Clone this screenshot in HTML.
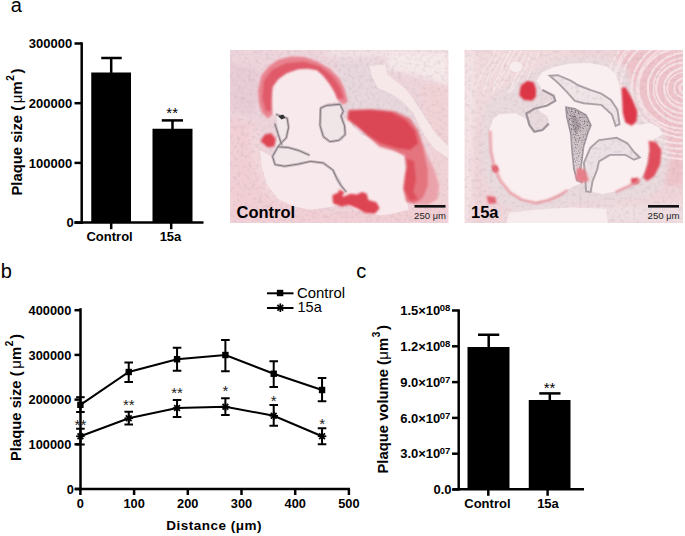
<!DOCTYPE html>
<html><head><meta charset="utf-8"><style>
html,body{margin:0;padding:0;background:#fff;}
body{width:685px;height:536px;overflow:hidden;position:relative;}
svg{display:block;}
.ph{position:absolute;}
</style></head><body>
<svg width="685" height="536" viewBox="0 0 685 536" style="position:absolute;left:0;top:0;font-family:'Liberation Sans', sans-serif;">
<text x="10.8" y="12.4" font-size="20" font-weight="normal" text-anchor="start" >a</text>
<line x1="81.7" y1="42.3" x2="81.7" y2="223.9" stroke="#000" stroke-width="2.5"/>
<line x1="74.5" y1="43.5" x2="81.7" y2="43.5" stroke="#000" stroke-width="2.5"/>
<text x="72.2" y="48.15" font-size="13" font-weight="bold" text-anchor="end" >300000</text>
<line x1="74.5" y1="103.2" x2="81.7" y2="103.2" stroke="#000" stroke-width="2.5"/>
<text x="72.2" y="107.85000000000001" font-size="13" font-weight="bold" text-anchor="end" >200000</text>
<line x1="74.5" y1="162.9" x2="81.7" y2="162.9" stroke="#000" stroke-width="2.5"/>
<text x="72.2" y="167.55" font-size="13" font-weight="bold" text-anchor="end" >100000</text>
<line x1="74.5" y1="222.6" x2="81.7" y2="222.6" stroke="#000" stroke-width="2.5"/>
<text x="73.8" y="227.25" font-size="13" font-weight="bold" text-anchor="end" >0</text>
<line x1="74.5" y1="222.6" x2="203.5" y2="222.6" stroke="#000" stroke-width="2.5"/>
<rect x="91.25" y="72.5" width="39.75" height="150" fill="#000"/>
<rect x="152.5" y="128.75" width="40" height="94" fill="#000"/>
<line x1="111.2" y1="58" x2="111.2" y2="73" stroke="#000" stroke-width="2.5"/>
<line x1="101.25" y1="58" x2="121.75" y2="58" stroke="#000" stroke-width="2.5"/>
<line x1="172.5" y1="120.4" x2="172.5" y2="129" stroke="#000" stroke-width="2.5"/>
<line x1="161.75" y1="120.4" x2="183" y2="120.4" stroke="#000" stroke-width="2.5"/>
<text x="172.2" y="118" font-size="15" font-weight="normal" text-anchor="middle" >**</text>
<line x1="111.2" y1="222" x2="111.2" y2="229.2" stroke="#000" stroke-width="2.5"/>
<line x1="171.2" y1="222" x2="171.2" y2="229.2" stroke="#000" stroke-width="2.5"/>
<text x="109.6" y="241" font-size="13" font-weight="bold" text-anchor="middle" >Control</text>
<text x="170.5" y="241" font-size="13" font-weight="bold" text-anchor="middle" >15a</text>
<text transform="translate(21.6,195.5) rotate(-90)" font-size="14.8" font-weight="bold">Plaque size (<tspan font-weight="normal" dx="2.6">μ</tspan><tspan dx="0.3">m</tspan><tspan font-size="10" dy="-7.8" dx="0.6">2</tspan><tspan dy="7.8" dx="1.5">)</tspan></text>
<text x="0.7" y="277.8" font-size="20" font-weight="normal" text-anchor="start" >b</text>
<line x1="80.5" y1="308.2" x2="80.5" y2="490.3" stroke="#000" stroke-width="2.5"/>
<line x1="74.5" y1="489.0" x2="80.5" y2="489.0" stroke="#000" stroke-width="2.5"/>
<text x="73.9" y="493.6" font-size="12.8" font-weight="bold" text-anchor="end" >0</text>
<line x1="74.5" y1="444.3" x2="80.5" y2="444.3" stroke="#000" stroke-width="2.5"/>
<text x="71.3" y="448.90000000000003" font-size="12.8" font-weight="bold" text-anchor="end" >100000</text>
<line x1="74.5" y1="399.6" x2="80.5" y2="399.6" stroke="#000" stroke-width="2.5"/>
<text x="71.3" y="404.20000000000005" font-size="12.8" font-weight="bold" text-anchor="end" >200000</text>
<line x1="74.5" y1="354.9" x2="80.5" y2="354.9" stroke="#000" stroke-width="2.5"/>
<text x="71.3" y="359.5" font-size="12.8" font-weight="bold" text-anchor="end" >300000</text>
<line x1="74.5" y1="310.2" x2="80.5" y2="310.2" stroke="#000" stroke-width="2.5"/>
<text x="71.3" y="314.8" font-size="12.8" font-weight="bold" text-anchor="end" >400000</text>
<line x1="75" y1="489" x2="350" y2="489" stroke="#000" stroke-width="2.5"/>
<line x1="80.4" y1="489" x2="80.4" y2="495" stroke="#000" stroke-width="2.5"/>
<text x="80.4" y="508.3" font-size="12.8" font-weight="bold" text-anchor="middle" >0</text>
<line x1="134.10000000000002" y1="489" x2="134.10000000000002" y2="495" stroke="#000" stroke-width="2.5"/>
<text x="134.10000000000002" y="508.3" font-size="12.8" font-weight="bold" text-anchor="middle" >100</text>
<line x1="187.8" y1="489" x2="187.8" y2="495" stroke="#000" stroke-width="2.5"/>
<text x="187.8" y="508.3" font-size="12.8" font-weight="bold" text-anchor="middle" >200</text>
<line x1="241.50000000000003" y1="489" x2="241.50000000000003" y2="495" stroke="#000" stroke-width="2.5"/>
<text x="241.50000000000003" y="508.3" font-size="12.8" font-weight="bold" text-anchor="middle" >300</text>
<line x1="295.20000000000005" y1="489" x2="295.20000000000005" y2="495" stroke="#000" stroke-width="2.5"/>
<text x="295.20000000000005" y="508.3" font-size="12.8" font-weight="bold" text-anchor="middle" >400</text>
<line x1="348.9" y1="489" x2="348.9" y2="495" stroke="#000" stroke-width="2.5"/>
<text x="348.9" y="508.3" font-size="12.8" font-weight="bold" text-anchor="middle" >500</text>
<text x="166.3" y="529.7" font-size="13.5" font-weight="bold" text-anchor="start" letter-spacing="0.5">Distance (μm)</text>
<text transform="translate(21,461) rotate(-90)" font-size="14.8" font-weight="bold">Plaque size (<tspan font-weight="normal" dx="2.6">μ</tspan><tspan dx="0.3">m</tspan><tspan font-size="10" dy="-7.8" dx="0.6">2</tspan><tspan dy="7.8" dx="1.5">)</tspan></text>
<polyline points="80.40,404.8 128.73,372 177.06,359.25 225.39,355 273.72,373.75 322.05,390" fill="none" stroke="#000" stroke-width="2"/>
<line x1="80.4" y1="397.2" x2="80.4" y2="412" stroke="#000" stroke-width="2"/>
<line x1="76.10000000000001" y1="397.2" x2="84.7" y2="397.2" stroke="#000" stroke-width="2"/>
<line x1="76.10000000000001" y1="412" x2="84.7" y2="412" stroke="#000" stroke-width="2"/>
<rect x="77.2" y="401.6" width="6.4" height="6.4" fill="#000"/>
<line x1="128.73000000000002" y1="362.5" x2="128.73000000000002" y2="382" stroke="#000" stroke-width="2"/>
<line x1="124.43000000000002" y1="362.5" x2="133.03000000000003" y2="362.5" stroke="#000" stroke-width="2"/>
<line x1="124.43000000000002" y1="382" x2="133.03000000000003" y2="382" stroke="#000" stroke-width="2"/>
<rect x="125.53000000000002" y="368.8" width="6.4" height="6.4" fill="#000"/>
<line x1="177.06" y1="347.75" x2="177.06" y2="370.75" stroke="#000" stroke-width="2"/>
<line x1="172.76" y1="347.75" x2="181.36" y2="347.75" stroke="#000" stroke-width="2"/>
<line x1="172.76" y1="370.75" x2="181.36" y2="370.75" stroke="#000" stroke-width="2"/>
<rect x="173.86" y="356.05" width="6.4" height="6.4" fill="#000"/>
<line x1="225.39000000000001" y1="340" x2="225.39000000000001" y2="371.25" stroke="#000" stroke-width="2"/>
<line x1="221.09" y1="340" x2="229.69000000000003" y2="340" stroke="#000" stroke-width="2"/>
<line x1="221.09" y1="371.25" x2="229.69000000000003" y2="371.25" stroke="#000" stroke-width="2"/>
<rect x="222.19000000000003" y="351.8" width="6.4" height="6.4" fill="#000"/>
<line x1="273.72" y1="361.25" x2="273.72" y2="387" stroke="#000" stroke-width="2"/>
<line x1="269.42" y1="361.25" x2="278.02000000000004" y2="361.25" stroke="#000" stroke-width="2"/>
<line x1="269.42" y1="387" x2="278.02000000000004" y2="387" stroke="#000" stroke-width="2"/>
<rect x="270.52000000000004" y="370.55" width="6.4" height="6.4" fill="#000"/>
<line x1="322.05" y1="378" x2="322.05" y2="401.25" stroke="#000" stroke-width="2"/>
<line x1="317.75" y1="378" x2="326.35" y2="378" stroke="#000" stroke-width="2"/>
<line x1="317.75" y1="401.25" x2="326.35" y2="401.25" stroke="#000" stroke-width="2"/>
<rect x="318.85" y="386.8" width="6.4" height="6.4" fill="#000"/>
<polyline points="80.40,436.25 128.73,418.25 177.06,408 225.39,406.75 273.72,415.75 322.05,436.25" fill="none" stroke="#000" stroke-width="2"/>
<line x1="80.4" y1="428.75" x2="80.4" y2="444.5" stroke="#000" stroke-width="2"/>
<line x1="76.10000000000001" y1="428.75" x2="84.7" y2="428.75" stroke="#000" stroke-width="2"/>
<line x1="76.10000000000001" y1="444.5" x2="84.7" y2="444.5" stroke="#000" stroke-width="2"/>
<line x1="76.10" y1="436.25" x2="84.70" y2="436.25" stroke="#000" stroke-width="1.7"/>
<line x1="77.51" y1="433.36" x2="83.29" y2="439.14" stroke="#000" stroke-width="1.7"/>
<line x1="80.40" y1="431.95" x2="80.40" y2="440.55" stroke="#000" stroke-width="1.7"/>
<line x1="83.29" y1="433.36" x2="77.51" y2="439.14" stroke="#000" stroke-width="1.7"/>
<line x1="128.73000000000002" y1="411.75" x2="128.73000000000002" y2="424.5" stroke="#000" stroke-width="2"/>
<line x1="124.43000000000002" y1="411.75" x2="133.03000000000003" y2="411.75" stroke="#000" stroke-width="2"/>
<line x1="124.43000000000002" y1="424.5" x2="133.03000000000003" y2="424.5" stroke="#000" stroke-width="2"/>
<line x1="124.43" y1="418.25" x2="133.03" y2="418.25" stroke="#000" stroke-width="1.7"/>
<line x1="125.84" y1="415.36" x2="131.62" y2="421.14" stroke="#000" stroke-width="1.7"/>
<line x1="128.73" y1="413.95" x2="128.73" y2="422.55" stroke="#000" stroke-width="1.7"/>
<line x1="131.62" y1="415.36" x2="125.84" y2="421.14" stroke="#000" stroke-width="1.7"/>
<line x1="177.06" y1="400" x2="177.06" y2="417" stroke="#000" stroke-width="2"/>
<line x1="172.76" y1="400" x2="181.36" y2="400" stroke="#000" stroke-width="2"/>
<line x1="172.76" y1="417" x2="181.36" y2="417" stroke="#000" stroke-width="2"/>
<line x1="172.76" y1="408.00" x2="181.36" y2="408.00" stroke="#000" stroke-width="1.7"/>
<line x1="174.17" y1="405.11" x2="179.95" y2="410.89" stroke="#000" stroke-width="1.7"/>
<line x1="177.06" y1="403.70" x2="177.06" y2="412.30" stroke="#000" stroke-width="1.7"/>
<line x1="179.95" y1="405.11" x2="174.17" y2="410.89" stroke="#000" stroke-width="1.7"/>
<line x1="225.39000000000001" y1="398.25" x2="225.39000000000001" y2="415" stroke="#000" stroke-width="2"/>
<line x1="221.09" y1="398.25" x2="229.69000000000003" y2="398.25" stroke="#000" stroke-width="2"/>
<line x1="221.09" y1="415" x2="229.69000000000003" y2="415" stroke="#000" stroke-width="2"/>
<line x1="221.09" y1="406.75" x2="229.69" y2="406.75" stroke="#000" stroke-width="1.7"/>
<line x1="222.50" y1="403.86" x2="228.28" y2="409.64" stroke="#000" stroke-width="1.7"/>
<line x1="225.39" y1="402.45" x2="225.39" y2="411.05" stroke="#000" stroke-width="1.7"/>
<line x1="228.28" y1="403.86" x2="222.50" y2="409.64" stroke="#000" stroke-width="1.7"/>
<line x1="273.72" y1="405" x2="273.72" y2="425.75" stroke="#000" stroke-width="2"/>
<line x1="269.42" y1="405" x2="278.02000000000004" y2="405" stroke="#000" stroke-width="2"/>
<line x1="269.42" y1="425.75" x2="278.02000000000004" y2="425.75" stroke="#000" stroke-width="2"/>
<line x1="269.42" y1="415.75" x2="278.02" y2="415.75" stroke="#000" stroke-width="1.7"/>
<line x1="270.83" y1="412.86" x2="276.61" y2="418.64" stroke="#000" stroke-width="1.7"/>
<line x1="273.72" y1="411.45" x2="273.72" y2="420.05" stroke="#000" stroke-width="1.7"/>
<line x1="276.61" y1="412.86" x2="270.83" y2="418.64" stroke="#000" stroke-width="1.7"/>
<line x1="322.05" y1="428.25" x2="322.05" y2="444.25" stroke="#000" stroke-width="2"/>
<line x1="317.75" y1="428.25" x2="326.35" y2="428.25" stroke="#000" stroke-width="2"/>
<line x1="317.75" y1="444.25" x2="326.35" y2="444.25" stroke="#000" stroke-width="2"/>
<line x1="317.75" y1="436.25" x2="326.35" y2="436.25" stroke="#000" stroke-width="1.7"/>
<line x1="319.16" y1="433.36" x2="324.94" y2="439.14" stroke="#000" stroke-width="1.7"/>
<line x1="322.05" y1="431.95" x2="322.05" y2="440.55" stroke="#000" stroke-width="1.7"/>
<line x1="324.94" y1="433.36" x2="319.16" y2="439.14" stroke="#000" stroke-width="1.7"/>
<text x="80.4" y="430.2" font-size="15" font-weight="normal" text-anchor="middle" fill="#222">**</text>
<text x="128.73000000000002" y="410.4" font-size="15" font-weight="normal" text-anchor="middle" fill="#222">**</text>
<text x="177.06" y="398.0" font-size="15" font-weight="normal" text-anchor="middle" fill="#222">**</text>
<text x="225.39000000000001" y="395.9" font-size="15" font-weight="normal" text-anchor="middle" fill="#222">*</text>
<text x="273.72" y="405.5" font-size="15" font-weight="normal" text-anchor="middle" fill="#222">*</text>
<text x="322.05" y="429.0" font-size="15" font-weight="normal" text-anchor="middle" fill="#222">*</text>
<line x1="267" y1="293.3" x2="293.5" y2="293.3" stroke="#000" stroke-width="2"/>
<rect x="276.90000000000003" y="289.8" width="6.4" height="6.4" fill="#000"/>
<line x1="267" y1="308" x2="293.5" y2="308" stroke="#000" stroke-width="2"/>
<line x1="276.00" y1="307.70" x2="284.60" y2="307.70" stroke="#000" stroke-width="1.7"/>
<line x1="277.41" y1="304.81" x2="283.19" y2="310.59" stroke="#000" stroke-width="1.7"/>
<line x1="280.30" y1="303.40" x2="280.30" y2="312.00" stroke="#000" stroke-width="1.7"/>
<line x1="283.19" y1="304.81" x2="277.41" y2="310.59" stroke="#000" stroke-width="1.7"/>
<text x="297" y="298.2" font-size="14.9" font-weight="normal" text-anchor="start" >Control</text>
<text x="297.5" y="312.3" font-size="14.5" font-weight="normal" text-anchor="start" >15a</text>
<text x="356.2" y="277.7" font-size="20" font-weight="normal" text-anchor="start" >c</text>
<line x1="458.7" y1="309.4" x2="458.7" y2="490.5" stroke="#000" stroke-width="2.5"/>
<line x1="452" y1="489.5" x2="458.7" y2="489.5" stroke="#000" stroke-width="2.5"/>
<text x="451.5" y="494.1" font-size="13" font-weight="bold" text-anchor="end" >0.0</text>
<line x1="452" y1="453.7" x2="458.7" y2="453.7" stroke="#000" stroke-width="2.5"/>
<text x="440.3" y="458.3" font-size="13" font-weight="bold" text-anchor="end" >3.0×10</text>
<text x="439.8" y="454.3" font-size="9.5" font-weight="bold" text-anchor="start" >07</text>
<line x1="452" y1="417.9" x2="458.7" y2="417.9" stroke="#000" stroke-width="2.5"/>
<text x="440.3" y="422.5" font-size="13" font-weight="bold" text-anchor="end" >6.0×10</text>
<text x="439.8" y="418.5" font-size="9.5" font-weight="bold" text-anchor="start" >07</text>
<line x1="452" y1="382.1" x2="458.7" y2="382.1" stroke="#000" stroke-width="2.5"/>
<text x="440.3" y="386.70000000000005" font-size="13" font-weight="bold" text-anchor="end" >9.0×10</text>
<text x="439.8" y="382.70000000000005" font-size="9.5" font-weight="bold" text-anchor="start" >07</text>
<line x1="452" y1="346.3" x2="458.7" y2="346.3" stroke="#000" stroke-width="2.5"/>
<text x="440.3" y="350.90000000000003" font-size="13" font-weight="bold" text-anchor="end" >1.2×10</text>
<text x="439.8" y="346.90000000000003" font-size="9.5" font-weight="bold" text-anchor="start" >08</text>
<line x1="452" y1="310.5" x2="458.7" y2="310.5" stroke="#000" stroke-width="2.5"/>
<text x="440.3" y="315.1" font-size="13" font-weight="bold" text-anchor="end" >1.5×10</text>
<text x="439.8" y="311.1" font-size="9.5" font-weight="bold" text-anchor="start" >08</text>
<line x1="453" y1="489.3" x2="584" y2="489.3" stroke="#000" stroke-width="2.5"/>
<rect x="467.5" y="347" width="42" height="142" fill="#000"/>
<rect x="528.75" y="400" width="41.75" height="89" fill="#000"/>
<line x1="488.7" y1="334.75" x2="488.7" y2="347.5" stroke="#000" stroke-width="2.5"/>
<line x1="478" y1="334.75" x2="499.25" y2="334.75" stroke="#000" stroke-width="2.5"/>
<line x1="549.8" y1="393.4" x2="549.8" y2="400.5" stroke="#000" stroke-width="2.5"/>
<line x1="539.25" y1="393.4" x2="560.5" y2="393.4" stroke="#000" stroke-width="2.5"/>
<text x="549.6" y="392.5" font-size="15" font-weight="normal" text-anchor="middle" >**</text>
<line x1="488.3" y1="489" x2="488.3" y2="495.8" stroke="#000" stroke-width="2.5"/>
<line x1="547.6" y1="489" x2="547.6" y2="495.8" stroke="#000" stroke-width="2.5"/>
<text x="487.4" y="507.7" font-size="13" font-weight="bold" text-anchor="middle" >Control</text>
<text x="548" y="507.7" font-size="13" font-weight="bold" text-anchor="middle" >15a</text>
<text transform="translate(388,473.5) rotate(-90)" font-size="14.8" font-weight="bold">Plaque volume (<tspan font-weight="normal" dx="0.3">μ</tspan><tspan dx="0.3">m</tspan><tspan font-size="10" dy="-7.8" dx="0.6">3</tspan><tspan dy="7.8" dx="1.5">)</tspan></text>
<svg x="230" y="50" width="218.5" height="173" viewBox="0 0 679 536" preserveAspectRatio="none"><defs>
<filter id="b1" x="-10%" y="-10%" width="120%" height="120%"><feGaussianBlur stdDeviation="4"/></filter>
<filter id="b2" x="-10%" y="-10%" width="120%" height="120%"><feGaussianBlur stdDeviation="2"/></filter>
<filter id="t1" x="0" y="0" width="100%" height="100%"><feTurbulence type="fractalNoise" baseFrequency="0.09" numOctaves="3" seed="7"/><feColorMatrix type="matrix" values="0 0 0 0 0.42  0 0 0 0 0.36  0 0 0 0 0.42  2.6 0 0 0 -1.25"/></filter>
<filter id="rt1" x="-10%" y="-10%" width="120%" height="120%"><feGaussianBlur in="SourceGraphic" stdDeviation="4" result="bl"/><feTurbulence type="fractalNoise" baseFrequency="0.045" numOctaves="2" seed="4" result="n"/><feColorMatrix in="n" type="matrix" values="0 0 0 0 1  0 0 0 0 0.88  0 0 0 0 0.9  0.9 0 0 0 -0.36" result="nw"/><feComposite in="nw" in2="bl" operator="in" result="nwin"/><feMerge><feMergeNode in="bl"/><feMergeNode in="nwin"/></feMerge></filter>
<filter id="b3" x="-20%" y="-20%" width="140%" height="140%"><feGaussianBlur stdDeviation="8"/></filter>
</defs>
<rect width="679" height="536" fill="#eed5dc"/>
<g filter="url(#b3)">
<path d="M300,0 H679 V20 H300 Z" fill="#f3e4e7"/>
<path d="M488,10 L679,10 L679,110 L600,85 L560,75 L490,60 Z" fill="#f6e9ea"/>
<path d="M590,100 L679,110 L679,536 L600,536 L620,400 L625,300 Z" fill="#f1d3d6"/>
<path d="M0,210 L85,230 L100,330 L150,470 L300,500 L679,480 L679,536 L0,536 Z" fill="#f2cfd5"/>
<path d="M55,240 L85,240 L95,330 L125,420 L180,470 L150,480 L100,430 L70,330 Z" fill="#f3d8dc"/>
<path d="M0,40 L90,60 L80,200 L0,190 Z" fill="#e8ccd6"/>
<path d="M338,25 L490,40 L500,130 L560,180 L600,260 L560,300 L420,260 L360,210 L340,160 Z" fill="#e8d8dd"/>
</g>
<rect width="679" height="536" filter="url(#t1)" opacity="0.26"/>
<g filter="url(#b2)">
<!-- lumen -->
<path d="M132,200 L132,115 L150,90 L175,72 L210,60 L240,57 L270,62 L290,80 L310,105 L325,130 L335,160 L300,165 L280,175 L278,230 L290,275 L320,288 L350,280 L362,250 L355,215 L368,200 L380,235 L410,262 L450,282 L500,300 L540,330 L543,360 L548,400 L540,420 L548,460 L555,495 L500,508 L470,512 L440,510 L390,495 L360,478 L300,488 L250,495 L200,485 L150,462 L115,417 L100,367 L92,310 L130,330 L150,300 L175,270 L180,230 L160,210 Z" fill="#f8eaec"/>
<!-- channel -->
<path d="M433,50 L483,45 L488,75 L545,120 L568,150 L600,200 L640,260 L679,300 L679,335 L635,305 L605,265 L570,195 L535,158 L500,135 L460,118 L440,78 Z" fill="#f6e8e9"/>
<!-- leaflet interiors -->
<path d="M282,180 L342,168 L352,190 L345,205 L356,235 L358,262 L338,280 L310,284 L290,268 L280,235 Z" fill="#f0e6e8"/>
<path d="M135,320 L150,298 L175,272 L182,240 L178,212 L145,200 L150,260 L140,300 Z" fill="#f1e8ea"/>
<path d="M138,318 L165,292 L200,300 L235,316 L252,333 L232,345 L190,352 L150,352 L133,338 Z" fill="#f1e7e9"/>
<path d="M318,372 L340,395 L355,425 L345,432 L330,410 Z" fill="#ece0e3"/>
</g>
<g filter="url(#b1)">
<!-- crescent -->
<path d="M90,165 L87,125 L97,80 L120,50 L150,30 L190,20 L230,22 L270,35 L310,58 L340,88 L356,120 L366,160 L350,170 L332,150 L325,130 L310,105 L290,80 L270,62 L240,57 L210,60 L175,72 L150,90 L132,115 L129,150 L132,200 L118,212 L100,195 Z" fill="#e8838f"/>
<path d="M100,150 L105,95 L130,62 L175,40 L230,36 L280,50 L318,80 L342,115 L354,150 L336,152 L325,130 L310,105 L290,80 L270,62 L240,57 L210,60 L175,72 L150,90 L132,115 L129,150 L128,190 L112,190 Z" fill="#e05a69"/>
<!-- right plaque -->
<path d="M560,300 L600,290 L615,330 L635,370 L650,420 L645,462 L615,480 L580,478 L560,440 Z" fill="#eba3ab"/>
<path d="M368,185 L438,183 L513,190 L560,212 L585,250 L598,290 L606,330 L615,370 L615,420 L600,457 L575,477 L548,470 L538,430 L543,389 L548,363 L543,327 L507,311 L465,300 L428,267 L398,240 L363,215 Z" fill="#e4747f"/>
<path d="M370,188 L438,186 L500,192 L545,215 L575,250 L585,290 L560,310 L520,305 L470,290 L428,265 L400,240 L366,212 Z" fill="#dc4756"/>
<path d="M548,335 L572,345 L578,400 L570,440 L585,462 L560,468 L540,430 L545,390 L550,362 Z" fill="#de4f5c"/>
<!-- bottom blobs -->
<path d="M318,450 L340,440 L352,455 L375,445 L395,448 L410,440 L425,445 L430,465 L455,472 L465,490 L450,507 L420,505 L395,490 L370,480 L345,485 L320,475 Z" fill="#de4553"/>
<path d="M338,432 L356,440 L350,450 L338,445 Z" fill="#de4553"/>
<!-- left blob -->
<path d="M95,283 L108,262 L128,258 L142,275 L138,298 L118,302 Z" fill="#de4553"/>
</g>
<g fill="none" stroke="#bfb2b8" stroke-width="9" stroke-linejoin="round" stroke-linecap="round" filter="url(#b2)" opacity="0.8">
<path d="M282,180 L300,172 L342,168 L352,190 L345,205 L356,235 L358,262 L338,280 L310,284 L290,268 L280,235 Z"/>
<path d="M145,200 L178,212 L182,240 L175,272 L150,298 L132,330 L140,355 L170,360 L210,354 L250,345 L290,350 L320,372 L332,398 L345,420 L360,438"/>
<path d="M150,300 L180,302 L215,312 L245,325"/>
<path d="M140,230 L150,262 L160,292"/>
</g>
<g fill="none" stroke="#7f757a" stroke-width="3" stroke-linejoin="round" stroke-linecap="round" filter="url(#b2)">
<path d="M282,180 L300,172 L342,168 L352,190 L345,205 L356,235 L358,262 L338,280 L310,284 L290,268 L280,235 Z"/>
<path d="M145,200 L178,212 L182,240 L175,272 L150,298 L132,330 L140,355 L170,360 L210,354 L250,345 L290,350 L320,372 L332,398 L345,420 L360,438"/>
<path d="M150,300 L180,302 L215,312 L245,325"/>
<path d="M140,230 L150,262 L160,292"/>
</g>
<path d="M150,205 L165,200 L172,210 L160,215 Z" fill="#333" filter="url(#b2)"/>
</svg>
<svg x="464.5" y="50" width="218.5" height="173" viewBox="0 0 679 536" preserveAspectRatio="none"><defs>
<filter id="c1" x="-10%" y="-10%" width="120%" height="120%"><feGaussianBlur stdDeviation="4"/></filter>
<filter id="c2" x="-10%" y="-10%" width="120%" height="120%"><feGaussianBlur stdDeviation="2"/></filter>
<filter id="t2" x="0" y="0" width="100%" height="100%"><feTurbulence type="fractalNoise" baseFrequency="0.09" numOctaves="3" seed="11"/><feColorMatrix type="matrix" values="0 0 0 0 0.45  0 0 0 0 0.38  0 0 0 0 0.43  2.6 0 0 0 -1.3"/></filter>
<filter id="t3" x="0" y="0" width="100%" height="100%"><feTurbulence type="fractalNoise" baseFrequency="0.25" numOctaves="2" seed="3"/><feColorMatrix type="matrix" values="0 0 0 0 0.1  0 0 0 0 0.08  0 0 0 0 0.1  3.5 0 0 0 -1.75"/></filter>
<linearGradient id="gC" x1="0" y1="0" x2="0" y2="1"><stop offset="0" stop-color="#c2b5ba"/><stop offset="0.45" stop-color="#cdc1c6"/><stop offset="1" stop-color="#e6dbde"/></linearGradient>
<linearGradient id="gm" gradientUnits="userSpaceOnUse" x1="0" y1="180" x2="0" y2="420"><stop offset="0" stop-color="#fff"/><stop offset="0.4" stop-color="#ddd"/><stop offset="1" stop-color="#333"/></linearGradient>
<mask id="mC"><rect width="679" height="536" fill="url(#gm)"/></mask>
<clipPath id="lfC"><path d="M315,177 L343,182 L378,202 L393,233 L383,258 L370,300 L365,340 L360,380 L365,410 L350,405 L340,370 L335,320 L330,258 L318,208 Z"/></clipPath>
<clipPath id="lfBD"><path d="M265,80 L290,78 L330,95 L355,110 L395,125 L425,135 L455,155 L475,185 L482,230 L470,235 L458,200 L425,170 L370,165 L343,158 L320,132 L292,103 Z M378,438 L371,350 L391,303 L418,279 L473,272 L506,289 L527,316 L545,333 L527,340 L500,325 L452,325 L418,345 L412,372 L398,406 L392,440 Z"/></clipPath>
<filter id="c3" x="-20%" y="-20%" width="140%" height="140%"><feGaussianBlur stdDeviation="8"/></filter>
</defs>
<rect width="679" height="536" fill="#efd5d9"/>
<g filter="url(#c3)">
<path d="M0,0 L40,0 L30,150 L20,536 L0,536 Z" fill="#f4e3e6"/>
<path d="M30,0 L330,0 L300,40 L220,60 L160,120 L120,170 L60,200 L30,250 Z" fill="#f1dadd"/>
<path d="M480,0 L679,0 L679,420 L610,420 L600,300 L560,200 L520,110 L480,60 Z" fill="#eec3c9"/>
<path d="M60,180 L120,120 L200,70 L300,25 L420,20 L500,50 L530,120 L560,200 L620,250 L640,330 L620,420 L560,460 L470,470 L380,470 L330,480 L260,500 L180,505 L120,480 L70,420 L50,330 Z" fill="#e9dade"/>
<path d="M130,500 L340,490 L440,480 L560,480 L679,470 L679,536 L130,536 Z" fill="#efdfe2"/>
</g>
<g fill="none" stroke="#f9eef0" stroke-linecap="round" opacity="0.6" filter="url(#c2)">
<path d="M96,0 L84,24 L71,48 L57,67 L47,92 L36,117" stroke-width="3.5"/>
<path d="M112,0 L102,18 L94,38 L81,62 L73,87 L66,110 L59,128" stroke-width="3.4"/>
<path d="M133,0 L120,20 L106,43 L95,62 L81,86 L68,111 L59,132" stroke-width="3.1"/>
<path d="M144,0 L134,18 L122,39 L114,63 L104,84 L94,107 L88,133" stroke-width="4.7"/>
<path d="M159,0 L147,21 L136,39 L130,58 L116,78 L104,103 L91,124" stroke-width="4.6"/>
<path d="M177,0 L165,24 L152,43 L138,61 L130,84 L116,105 L103,127" stroke-width="3.4"/>
<path d="M194,0 L186,24 L172,43 L166,69 L156,90 L148,113 L135,134" stroke-width="4.8"/>
<path d="M210,0 L200,25 L193,49 L180,72 L167,90 L158,110 L145,130" stroke-width="4.7"/>
<path d="M235,0 L225,22 L213,44 L205,65 L198,86 L184,112 L173,134" stroke-width="3.5"/>
</g>
<g fill="none" stroke="#f8e6e9" opacity="0.85" filter="url(#c2)">
<path d="M686,102 A18,16 0 0 0 687,134" stroke-width="6.4"/>
<path d="M685,87 A34.86655965697521,31 0 0 0 687,149" stroke-width="5.4"/>
<path d="M683,69 A54.19936890690692,49 0 0 0 686,167" stroke-width="5.0"/>
<path d="M682,54 A71.71327930716797,65 0 0 0 685,183" stroke-width="7.7"/>
<path d="M680,40 A87.11735254308297,78 0 0 0 685,196" stroke-width="6.7"/>
<path d="M679,24 A105.20060275650107,95 0 0 0 684,213" stroke-width="5.1"/>
<path d="M677,9 A122.09570077847825,110 0 0 0 684,228" stroke-width="7.1"/>
<path d="M676,-7 A139.35580538072838,125 0 0 0 683,243" stroke-width="7.2"/>
<path d="M674,-21 A155.14159118871152,140 0 0 0 683,258" stroke-width="5.7"/>
<path d="M673,-35 A170.6963288286016,154 0 0 0 682,272" stroke-width="6.5"/>
<path d="M671,-53 A190.31547776066307,171 0 0 0 681,289" stroke-width="6.8"/>
<path d="M670,-70 A209.18652509684063,188 0 0 0 681,306" stroke-width="6.2"/>
<path d="M668,-86 A227.91700118146278,205 0 0 0 680,323" stroke-width="5.3"/>
<path d="M667,-101 A244.3728915763948,220 0 0 0 679,338" stroke-width="7.0"/>
</g>
<rect width="679" height="536" filter="url(#t2)" opacity="0.28"/>
<g filter="url(#c2)">
<!-- main lumen -->
<path d="M222,98 L240,70 L280,52 L330,42 L390,40 L440,50 L470,75 L482,110 L488,150 L495,195 L505,228 L540,232 L575,226 L605,240 L615,262 L590,275 L575,300 L568,340 L562,375 L545,400 L510,420 L470,438 L430,446 L400,440 L385,425 L365,412 L345,420 L320,432 L290,450 L260,463 L220,472 L175,462 L140,440 L110,405 L90,360 L80,300 L78,245 L90,212 L110,198 L160,196 L195,215 L205,234 L220,250 L245,250 L262,230 L258,205 L235,190 L226,178 L250,168 L275,155 L282,145 L265,132 L240,122 L228,100 Z" fill="#f9eff0"/>
<!-- small white area top-left -->
<ellipse cx="160" cy="52" rx="20" ry="16" fill="#f7ecee"/>
<!-- bottom white -->
<path d="M140,505 L220,495 L330,488 L440,492 L445,536 L130,536 Z" fill="#f7ecee"/>
<!-- leaflet B -->
<path d="M265,80 L290,78 L330,95 L355,110 L395,125 L425,135 L455,155 L475,185 L482,230 L470,235 L458,200 L425,170 L370,165 L343,158 L320,132 L292,103 Z" fill="#efe5e7" stroke="#aca1a7" stroke-width="6"/>
<!-- leaflet C -->
<path d="M315,177 L343,182 L378,202 L393,233 L383,258 L370,300 L365,340 L360,380 L365,410 L350,405 L340,370 L335,320 L330,258 L318,208 Z" fill="url(#gC)" stroke="#a59aa0" stroke-width="5"/>
<!-- leaflet D -->
<path d="M378,438 L371,350 L391,303 L418,279 L473,272 L506,289 L527,316 L545,333 L527,340 L500,325 L452,325 L418,345 L412,372 L398,406 L392,440 Z" fill="#ece1e4" stroke="#aca1a7" stroke-width="6"/>
<!-- leaflet A -->
<path d="M242,124 L277,142 L282,157 L257,172 L217,182 L192,197 L202,233 L217,253 L242,248 L262,228" fill="none" stroke="#a0959b" stroke-width="7"/>
</g>
<g filter="url(#c2)">
<path d="M330,200 L350,210 L360,235 L350,260 L338,250 Z" fill="#8d8388" opacity="0.5"/>
</g>
<g mask="url(#mC)"><rect width="679" height="536" filter="url(#t3)" clip-path="url(#lfC)" opacity="0.8"/></g>
<rect width="679" height="536" filter="url(#t2)" clip-path="url(#lfBD)" opacity="0.3"/>
<g filter="url(#c1)">
<path d="M175,110 L195,95 L215,100 L222,120 L222,145 L210,157 L185,155 L170,140 Z" fill="#dc3545"/>
<path d="M488,118 L500,115 L512,135 L525,160 L537,190 L535,220 L520,235 L500,225 L492,195 L490,150 Z" fill="#dc3848"/>
<path d="M572,281 L595,285 L612,310 L608,355 L590,390 L568,406 L555,395 L570,350 L575,310 Z" fill="#e04e5c"/>
<path d="M517,398 L540,396 L542,414 L520,416 Z" fill="#dd4454"/>
<path d="M85,358 L100,356 L107,372 L100,381 L88,376 Z" fill="#dc3a4a"/>
<path d="M350,365 L375,370 L387,405 L365,412 L345,400 Z" fill="#e67f89"/>
<path d="M68,452 L95,455 L100,475 L75,476 Z" fill="#e16572"/>
</g>
<g fill="none" filter="url(#c1)" stroke="#e88f98" stroke-width="7" opacity="0.9">
<path d="M80,250 L82,310 L92,360 L112,405 L142,442 L178,464 L222,474 L262,465 L292,452 L320,434"/>
<path d="M470,440 L510,422 L545,402"/>
</g>
</svg>
<text x="236.5" y="218" font-size="16.5" font-weight="bold">Control</text>
<rect x="414.5" y="205" width="31" height="2.6" fill="#111"/>
<text x="430" y="218.5" font-size="9.6" text-anchor="middle" fill="#222">250 <tspan font-size="9">μ</tspan>m</text>
<text x="471" y="218" font-size="16.5" font-weight="bold">15a</text>
<rect x="648" y="205" width="31" height="2.6" fill="#111"/>
<text x="663.5" y="218.5" font-size="9.6" text-anchor="middle" fill="#222">250 <tspan font-size="9">μ</tspan>m</text>
</svg>
</body></html>
